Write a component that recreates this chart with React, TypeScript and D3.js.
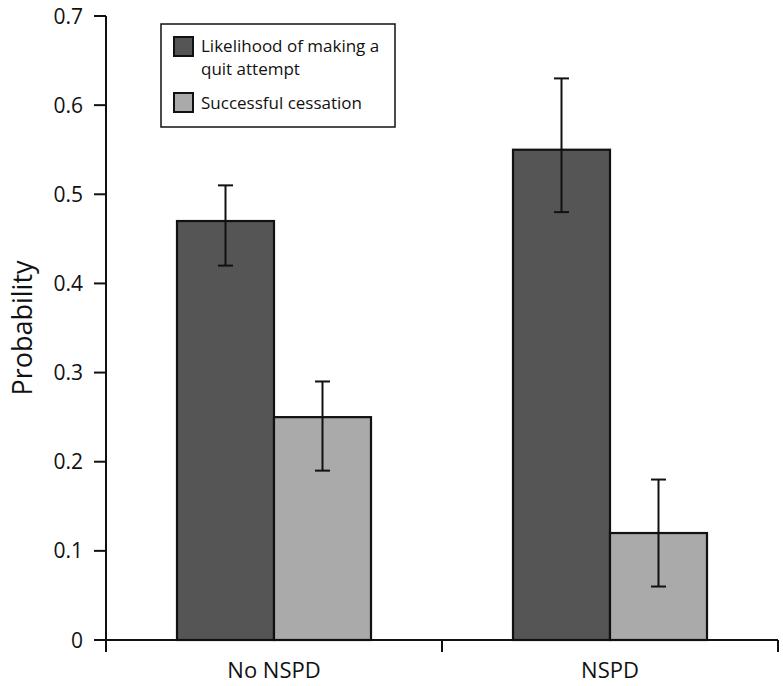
import React from "react";
import * as d3 from "d3";

const categories = ["No NSPD", "NSPD"];
const seriesNames = ["Likelihood of making a quit attempt", "Successful cessation"];
const quitAttempt = [0.47, 0.55];
const quitAttemptLow = [0.42, 0.48];
const quitAttemptHigh = [0.51, 0.63];
const cessation = [0.25, 0.12];
const cessationLow = [0.19, 0.06];
const cessationHigh = [0.29, 0.18];
const yTicks = [0, 0.1, 0.2, 0.3, 0.4, 0.5, 0.6, 0.7];
const colors = ["#555555", "#aaaaaa"];

const W = 783, H = 686;
const left = 106, right = 778, top = 16, bottom = 640;
const font = "'Open Sans', 'Noto Sans', sans-serif";

export default function App() {
  const y = d3.scaleLinear().domain([0, 0.7]).range([bottom, top]);
  const x0 = d3.scaleBand<string>().domain(categories).range([left, right]).padding(0);
  const x1 = d3.scaleBand<string>().domain(seriesNames).range([0, x0.bandwidth()]).paddingInner(0).paddingOuter(0.732);
  const vals = [quitAttempt, cessation];
  const lows = [quitAttemptLow, cessationLow];
  const highs = [quitAttemptHigh, cessationHigh];
  const fmt = (d: number) => (d === 0 ? "0" : d3.format(".1f")(d));
  const xTickPos = [left, ...categories.map((c) => (x0(c) as number) + x0.bandwidth())];

  return (
    <svg width={W} height={H} style={{ position: "absolute", left: 0, top: 0, background: "#fff" }} fontFamily={font}>
      {vals.map((arr, si) =>
        categories.map((c, ci) => {
          const bx = (x0(c) as number) + (x1(seriesNames[si]) as number);
          const bw = x1.bandwidth();
          return (
            <rect key={`b${si}${ci}`} x={bx} y={y(arr[ci])} width={bw} height={bottom - y(arr[ci])}
              fill={colors[si]} stroke="#111" strokeWidth={2.2} />
          );
        })
      )}
      {vals.map((arr, si) =>
        categories.map((c, ci) => {
          const cx = (x0(c) as number) + (x1(seriesNames[si]) as number) + x1.bandwidth() / 2;
          const lo = y(lows[si][ci]);
          const hi = y(highs[si][ci]);
          return (
            <g key={`e${si}${ci}`} stroke="#111" strokeWidth={2}>
              <line x1={cx} x2={cx} y1={lo} y2={hi} />
              <line x1={cx - 7.5} x2={cx + 7.5} y1={lo} y2={lo} />
              <line x1={cx - 7.5} x2={cx + 7.5} y1={hi} y2={hi} />
            </g>
          );
        })
      )}
      {/* y axis */}
      <line x1={left} x2={left} y1={top} y2={bottom} stroke="#111" strokeWidth={2} />
      {yTicks.map((t) => (
        <g key={`yt${t}`}>
          <line x1={left - 12} x2={left} y1={y(t)} y2={y(t)} stroke="#111" strokeWidth={2} />
          <text x={83} y={y(t)} dy="0.36em" textAnchor="end" fontSize={21} fill="#111">{fmt(t)}</text>
        </g>
      ))}
      {/* x axis */}
      <line x1={left - 12} x2={right} y1={bottom} y2={bottom} stroke="#111" strokeWidth={2} />
      {xTickPos.map((p, i) => (
        <line key={`xt${i}`} x1={p} x2={p} y1={bottom} y2={bottom + 12} stroke="#111" strokeWidth={2} />
      ))}
      {categories.map((c) => (
        <text key={c} x={(x0(c) as number) + x0.bandwidth() / 2} y={678} textAnchor="middle" fontSize={22} fill="#111">{c}</text>
      ))}
      <text transform={`translate(32, ${(top + bottom) / 2}) rotate(-90)`} textAnchor="middle" fontSize={27} fill="#111">Probability</text>
      {/* legend */}
      <rect x={161} y={24} width={234} height={103} fill="#fff" stroke="#111" strokeWidth={1.5} />
      <rect x={174} y={37} width={19} height={19} fill={colors[0]} stroke="#111" strokeWidth={2} />
      <rect x={174} y={93} width={19} height={19} fill={colors[1]} stroke="#111" strokeWidth={2} />
      <text x={201} y={52} fontSize={17} fill="#111">Likelihood of making a</text>
      <text x={201} y={75} fontSize={17} fill="#111">quit attempt</text>
      <text x={201} y={109} fontSize={17} fill="#111">{seriesNames[1]}</text>
    </svg>
  );
}
